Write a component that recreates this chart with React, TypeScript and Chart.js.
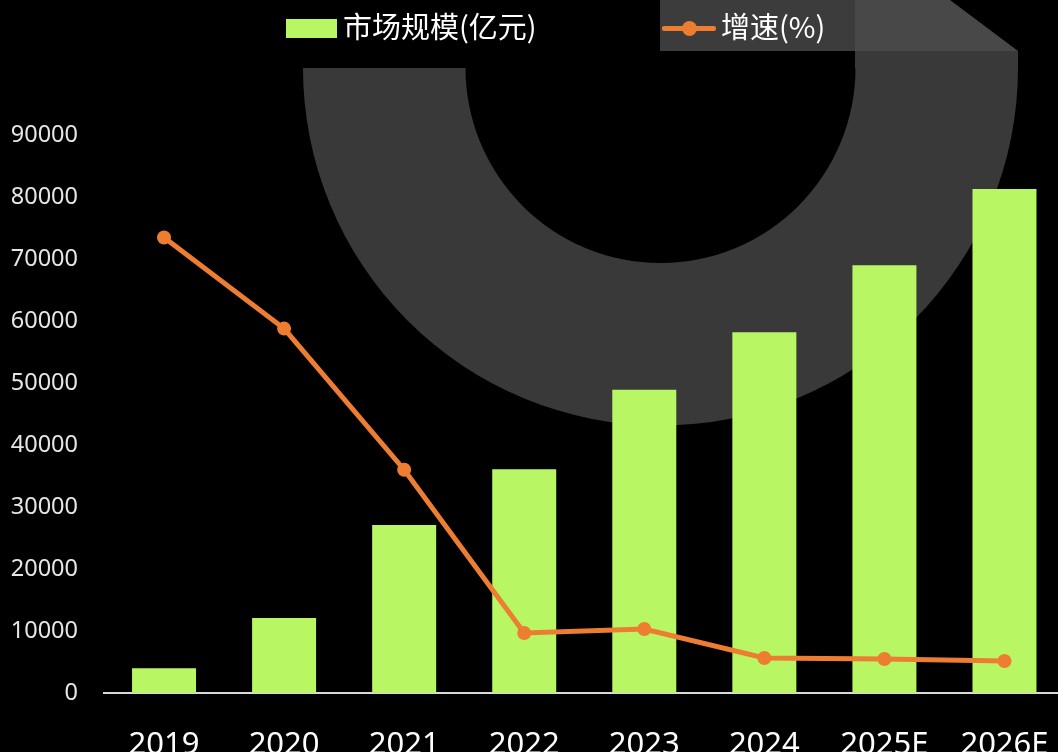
import React, { useEffect, useRef } from "react";
import { Chart, registerables } from "chart.js";

Chart.register(...registerables);

const categories = ["2019", "2020", "2021", "2022", "2023", "2024", "2025E", "2026E"];
const marketSize = [4000, 12100, 27100, 36100, 48900, 58200, 69000, 81300];
const growthRate = [255, 204, 125, 33.6, 35.8, 19.6, 19.0, 17.9];
const yTicks = [0, 10000, 20000, 30000, 40000, 50000, 60000, 70000, 80000, 90000];
const legendLabels = ["市场规模(亿元)", "增速(%)"];

const GREEN = "#b8f763";
const ORANGE = "#ed7d31";

const backdrop = {
  id: "backdrop",
  beforeDraw(chart: any) {
    const ctx = chart.ctx;
    ctx.save();
    ctx.fillStyle = "#000";
    ctx.fillRect(0, 0, chart.width, chart.height);
    // half ring
    const cx = 660.5, cy = 68, ro = 357.5, ri = 195;
    ctx.fillStyle = "#393939";
    ctx.beginPath();
    ctx.arc(cx, cy, ro, 0, Math.PI, false);
    ctx.arc(cx, cy, ri, Math.PI, 0, true);
    ctx.closePath();
    ctx.fill();
    // right arm up
    ctx.fillRect(855, 51, 163, 17.5);
    // top rectangle
    ctx.fillStyle = "#3c3c3c";
    ctx.fillRect(660, 0, 195, 51);
    ctx.fillStyle = "#484848";
    ctx.beginPath();
    ctx.moveTo(855, 0);
    ctx.lineTo(950, 0);
    ctx.lineTo(1018, 51);
    ctx.lineTo(855, 51);
    ctx.closePath();
    ctx.fill();
    ctx.restore();
  },
};

export default function App() {
  const ref = useRef<HTMLCanvasElement>(null);
  useEffect(() => {
    document.body.style.margin = "0";
    document.body.style.background = "#000";
    const chart = new Chart(ref.current as HTMLCanvasElement, {
      type: "bar",
      data: {
        labels: categories,
        datasets: [
          {
            type: "line",
            label: legendLabels[1],
            data: growthRate,
            yAxisID: "y2",
            borderColor: ORANGE,
            backgroundColor: ORANGE,
            borderWidth: 5,
            pointRadius: 7,
            pointBorderWidth: 0,
            pointBackgroundColor: ORANGE,
            tension: 0,
            order: 0,
          } as any,
          {
            type: "bar",
            label: legendLabels[0],
            data: marketSize,
            yAxisID: "y",
            backgroundColor: GREEN,
            categoryPercentage: 1,
            barPercentage: 0.533,
            order: 1,
          },
        ],
      },
      options: {
        animation: false,
        responsive: false,
        maintainAspectRatio: false,
        layout: { padding: { top: 135, left: 0, right: 0, bottom: 0 } },
        plugins: { legend: { display: false }, tooltip: { enabled: false } },
        scales: {
          x: {
            grid: { display: false },
            border: { display: true, color: "#d9d9d9", width: 2 },
            ticks: {
              color: "#ffffff",
              font: { family: "'Noto Sans'", size: 31 },
              padding: 26,
              maxRotation: 0,
              autoSkip: false,
            },
            afterFit: (s: any) => {
              s.height = 59;
            },
          },
          y: {
            min: 0,
            max: 90000,
            grid: { display: false },
            border: { display: false },
            afterBuildTicks: (s: any) => {
              s.ticks = yTicks.map((v) => ({ value: v }));
            },
            ticks: {
              color: "#e6e6e6",
              font: { family: "'Noto Sans'", size: 23.5 },
              padding: 18,
              callback: (v: any) => String(v),
            },
            afterFit: (s: any) => {
              s.width = 104;
            },
          },
          y2: {
            display: false,
            min: 0,
            max: 312.4,
            position: "right",
          },
        },
      },
      plugins: [backdrop],
    });
    return () => chart.destroy();
  }, []);

  const legendText: React.CSSProperties = {
    position: "absolute",
    top: 5,
    fontFamily: "'Noto Sans CJK SC'",
    fontSize: 29,
    lineHeight: "40px",
    color: "#ffffff",
    whiteSpace: "nowrap",
  };

  return (
    <div style={{ position: "relative", width: 1058, height: 752, overflow: "hidden", background: "#000" }}>
      <canvas ref={ref} width={1075} height={752} style={{ position: "absolute", left: 0, top: 0, width: 1075, height: 752 }} />
      <div style={{ position: "absolute", left: 286, top: 19, width: 51, height: 19, background: GREEN }} />
      <div style={{ ...legendText, left: 343 }}>{legendLabels[0]}</div>
      <div style={{ position: "absolute", left: 662, top: 26, width: 54, height: 5, borderRadius: 2, background: ORANGE }} />
      <div style={{ position: "absolute", left: 682, top: 21, width: 15, height: 15, borderRadius: "50%", background: ORANGE }} />
      <div style={{ ...legendText, left: 721 }}>{legendLabels[1]}</div>
    </div>
  );
}
